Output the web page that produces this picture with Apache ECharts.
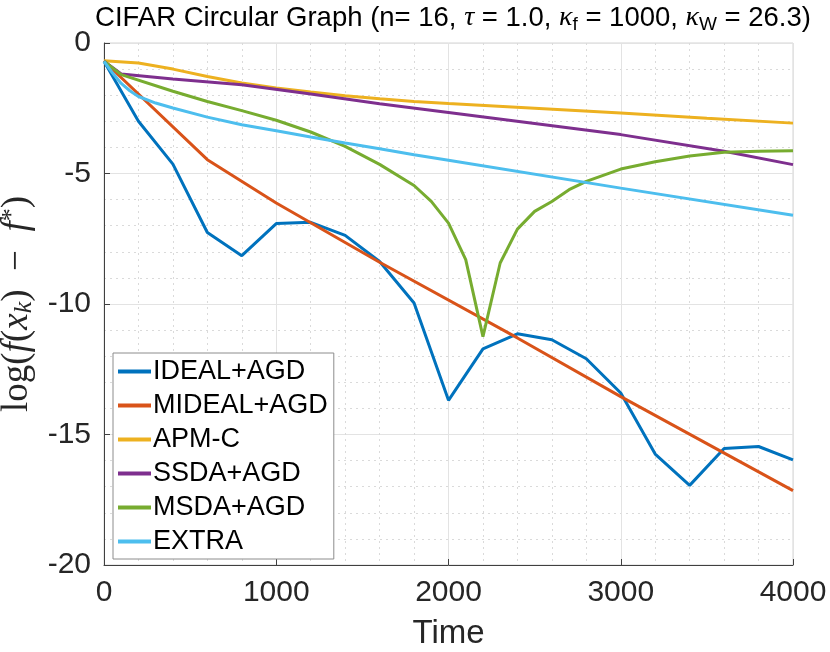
<!DOCTYPE html>
<html>
<head>
<meta charset="utf-8">
<script src="https://cdn.jsdelivr.net/npm/echarts@6/dist/echarts.min.js"></script>
<style>
  html, body { margin: 0; padding: 0; background: #fff; }
  #chart { width: 830px; height: 652px; }
</style>
</head>
<body>
<div id="chart"></div>
<script>
// values
const idealTime = [0, 200, 400, 600, 800, 1000, 1200, 1400, 1600, 1800, 2000, 2200, 2400, 2600, 2800, 3000, 3200, 3400, 3600, 3800, 4000];
const idealLoss = [-0.7, -3.0, -4.64, -7.26, -8.15, -6.92, -6.87, -7.37, -8.37, -9.96, -13.69, -11.72, -11.14, -11.37, -12.1, -13.41, -15.75, -16.95, -15.54, -15.46, -15.97];

const midealTime = [0, 600, 1000, 1600, 2400, 3000, 4000];
const midealLoss = [-0.7, -4.47, -6.13, -8.4, -11.3, -13.55, -17.15];

const apmTime = [0, 200, 400, 600, 800, 1000, 1200, 1400, 1600, 1800, 2000, 2500, 3000, 3500, 4000];
const apmLoss = [-0.68, -0.77, -1.0, -1.28, -1.53, -1.72, -1.88, -2.02, -2.14, -2.24, -2.32, -2.5, -2.68, -2.88, -3.07];

const ssdaTime = [0, 100, 400, 800, 1200, 1600, 2000, 2500, 3000, 3600, 4000];
const ssdaLoss = [-0.7, -1.19, -1.38, -1.6, -1.95, -2.33, -2.66, -3.08, -3.51, -4.15, -4.66];

const msdaTime = [0, 100, 400, 600, 800, 1000, 1200, 1400, 1600, 1800, 1900, 2000, 2100, 2200, 2300, 2400, 2500, 2600, 2700, 2800, 3000, 3200, 3400, 3600, 3800, 4000];
const msdaLoss = [-0.7, -1.21, -1.85, -2.24, -2.59, -2.96, -3.41, -3.96, -4.65, -5.46, -6.07, -6.9, -8.3, -11.25, -8.43, -7.13, -6.45, -6.07, -5.62, -5.3, -4.83, -4.55, -4.33, -4.19, -4.15, -4.13];

const extraTime = [0, 50, 100, 150, 200, 300, 400, 600, 800, 1000, 1200, 1400, 1600, 1800, 2000, 3000, 4000];
const extraLoss = [-0.7, -1.15, -1.55, -1.83, -2.05, -2.3, -2.49, -2.84, -3.13, -3.36, -3.6, -3.83, -4.05, -4.28, -4.49, -5.56, -6.6];

const seriesNames = ['IDEAL+AGD', 'MIDEAL+AGD', 'APM-C', 'SSDA+AGD', 'MSDA+AGD', 'EXTRA'];
const seriesColors = ['#0072BD', '#D95319', '#EDB120', '#7E2F8E', '#77AC30', '#4DBEEE'];

const xTicks = [0, 1000, 2000, 3000, 4000];
const yTicks = [-20, -15, -10, -5, 0];

const zip = (xs, ys) => xs.map((x, i) => [x, ys[i]]);

const seriesData = [
    zip(idealTime, idealLoss),
    zip(midealTime, midealLoss),
    zip(apmTime, apmLoss),
    zip(ssdaTime, ssdaLoss),
    zip(msdaTime, msdaLoss),
    zip(extraTime, extraLoss)
];

const chart = echarts.init(document.getElementById('chart'), null, { renderer: 'canvas' });

const sans = 'Liberation Sans, Arial, sans-serif';
const serif = 'Liberation Serif, DejaVu Serif, serif';

const option = {
    animation: false,
    backgroundColor: '#fff',
    title: {
        text: '{t|CIFAR Circular Graph (n= 16, }{g|τ}{t| = 1.0, }{g|κ}{s|f}{t| = 1000, }{g|κ}{s|W}{t| = 26.3)}',
        left: 448,
        textAlign: 'center',
        top: -3,
        textStyle: {
            fontWeight: 'normal',
            rich: {
                t: { fontFamily: sans, fontSize: 27.5, fontWeight: 'normal', color: '#000', lineHeight: 32 },
                g: { fontFamily: serif, fontStyle: 'italic', fontWeight: 'normal', fontSize: 28, color: '#000', lineHeight: 32 },
                s: { fontFamily: sans, fontSize: 19, fontWeight: 'normal', color: '#000', lineHeight: 2, verticalAlign: 'bottom' }
            }
        }
    },
    grid: {
        left: 104,
        right: 37,
        top: 43,
        bottom: 87,
        outerBoundsMode: 'none',
        containLabel: false,
        show: true,
        borderColor: '#d4d4d4',
        borderWidth: 1,
        backgroundColor: 'transparent'
    },
    legend: {
        orient: 'vertical',
        left: 113,
        top: 353,
        data: seriesNames,
        icon: 'rect',
        itemWidth: 33,
        itemHeight: 4,
        itemGap: 7,
        padding: [5, 6, 4, 5],
        backgroundColor: '#fff',
        borderColor: '#8c8c8c',
        borderWidth: 1,
        borderRadius: 0,
        textStyle: { fontFamily: sans, fontSize: 27, color: '#000', lineHeight: 26, padding: [0, 0, 0, -3] }
    },
    xAxis: {
        type: 'value',
        min: xTicks[0],
        max: xTicks[xTicks.length - 1],
        interval: 1000,
        name: 'Time',
        nameLocation: 'middle',
        nameGap: 52,
        nameTextStyle: { fontFamily: sans, fontSize: 33, color: '#262626' },
        axisLine: { onZero: false, lineStyle: { color: '#404040', width: 1 } },
        axisTick: { inside: true, length: 6, lineStyle: { color: '#404040' } },
        axisLabel: { fontFamily: sans, fontSize: 30, color: '#262626', margin: 13, formatter: v => String(v) },
        splitLine: { show: true, lineStyle: { color: '#e3e3e3', width: 1 } },
        minorTick: { show: false, splitNumber: 5 },
        minorSplitLine: { show: true, lineStyle: { color: '#dadada', width: 1, type: [2, 4] } }
    },
    yAxis: {
        type: 'value',
        min: yTicks[0],
        max: yTicks[yTicks.length - 1],
        interval: 5,
        name: '{r|log(}{i|f}{r|(}{i|x}{k|k}{r|)  −  }{i|f}{u|*}{r|)}',
        nameLocation: 'middle',
        nameRotate: 90,
        nameGap: 65,
        nameTextStyle: {
            rich: {
                r: { fontFamily: serif, fontSize: 37, color: '#262626', lineHeight: 38 },
                i: { fontFamily: serif, fontStyle: 'italic', fontSize: 37, color: '#262626', lineHeight: 38 },
                k: { fontFamily: serif, fontStyle: 'italic', fontSize: 26, color: '#262626', lineHeight: 18, verticalAlign: 'bottom' },
                u: { fontFamily: serif, fontSize: 26, color: '#262626', lineHeight: 18, verticalAlign: 'top' }
            }
        },
        axisLine: { onZero: false, lineStyle: { color: '#404040', width: 1 } },
        axisTick: { inside: true, length: 6, lineStyle: { color: '#404040' } },
        axisLabel: { fontFamily: sans, fontSize: 30, color: '#262626', margin: 13, formatter: v => String(v) },
        splitLine: { show: true, lineStyle: { color: '#e3e3e3', width: 1 } },
        minorTick: { show: false, splitNumber: 5 },
        minorSplitLine: { show: true, lineStyle: { color: '#dadada', width: 1, type: [2, 4] } }
    },
    series: seriesNames.map((name, i) => ({
        name,
        type: 'line',
        data: seriesData[i],
        symbol: 'none',
        color: seriesColors[i],
        lineStyle: { color: seriesColors[i], width: 3 },
        z: 2 + i
    }))
};

chart.setOption(option);
</script>
</body>
</html>
